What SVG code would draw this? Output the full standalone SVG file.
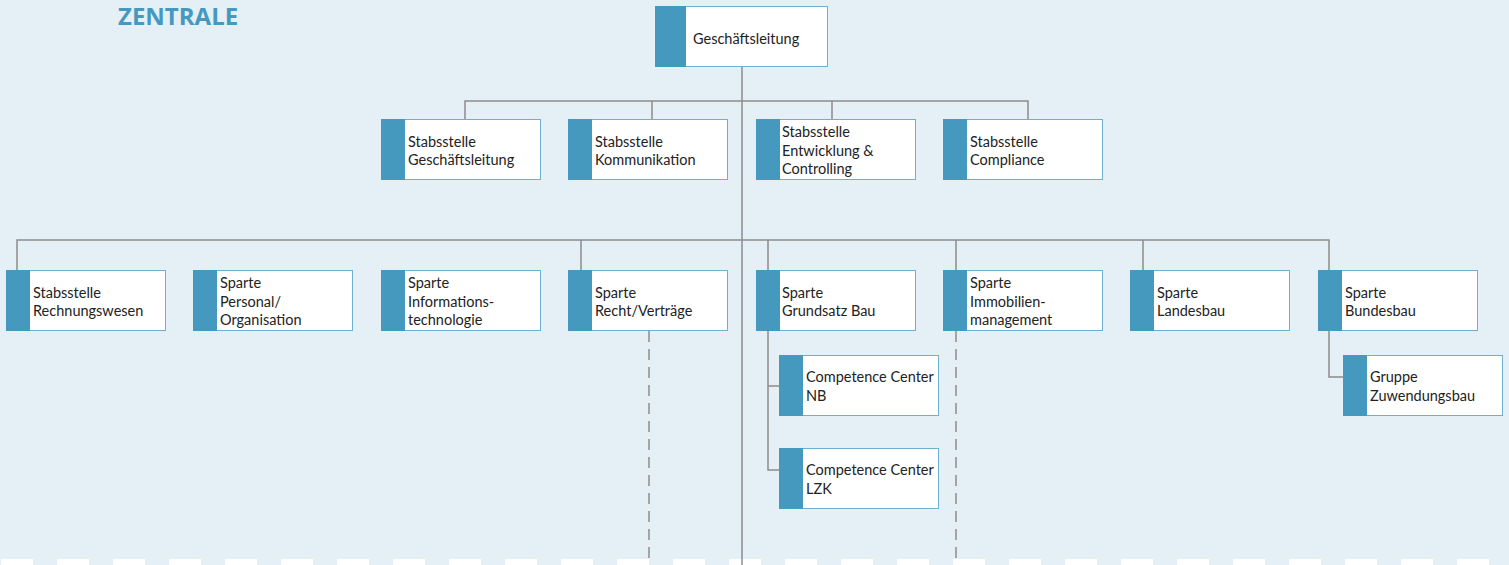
<svg xmlns="http://www.w3.org/2000/svg" width="1509" height="565" viewBox="0 0 1509 565">
  <style>
    .bg { fill: #e4eff6; }
    .box { fill: #ffffff; stroke: #6db1d1; stroke-width: 1; }
    .band { fill: #4599bf; }
    .lbl { font-family: Lato, "Liberation Sans", sans-serif; font-size: 14.5px; fill: #222222; }
    .title { font-family: "Open Sans", "Liberation Sans", sans-serif; font-weight: bold; font-size: 24px; fill: #4599bf; }
    .con { fill: none; stroke: #8c8c8c; stroke-width: 1.5; }
    .dash { fill: none; stroke: #8c8c8c; stroke-width: 1.5; stroke-dasharray: 11 7; }
    .edge { fill: #ffffff; }
  </style>
  <defs>
    <!-- card: white body with a blue band on the left, 160 x 61 -->
    <g id="card">
      <rect class="box" x="0.5" y="0.5" width="159" height="60"/>
      <rect class="band" x="0" y="0" width="24" height="61"/>
    </g>
  </defs>

  <rect class="bg" x="0" y="0" width="1509" height="565"/>

  <!-- perforated lower edge -->
  <g id="lower-edge">
    <rect class="edge" x="1" y="559" width="32" height="6"/>
    <rect class="edge" x="57" y="559" width="32" height="6"/>
    <rect class="edge" x="113" y="559" width="32" height="6"/>
    <rect class="edge" x="169" y="559" width="32" height="6"/>
    <rect class="edge" x="225" y="559" width="32" height="6"/>
    <rect class="edge" x="281" y="559" width="32" height="6"/>
    <rect class="edge" x="337" y="559" width="32" height="6"/>
    <rect class="edge" x="393" y="559" width="32" height="6"/>
    <rect class="edge" x="449" y="559" width="32" height="6"/>
    <rect class="edge" x="505" y="559" width="32" height="6"/>
    <rect class="edge" x="561" y="559" width="32" height="6"/>
    <rect class="edge" x="617" y="559" width="32" height="6"/>
    <rect class="edge" x="673" y="559" width="32" height="6"/>
    <rect class="edge" x="729" y="559" width="32" height="6"/>
    <rect class="edge" x="785" y="559" width="32" height="6"/>
    <rect class="edge" x="841" y="559" width="32" height="6"/>
    <rect class="edge" x="897" y="559" width="32" height="6"/>
    <rect class="edge" x="953" y="559" width="32" height="6"/>
    <rect class="edge" x="1009" y="559" width="32" height="6"/>
    <rect class="edge" x="1065" y="559" width="32" height="6"/>
    <rect class="edge" x="1121" y="559" width="32" height="6"/>
    <rect class="edge" x="1177" y="559" width="32" height="6"/>
    <rect class="edge" x="1233" y="559" width="32" height="6"/>
    <rect class="edge" x="1289" y="559" width="32" height="6"/>
    <rect class="edge" x="1345" y="559" width="32" height="6"/>
    <rect class="edge" x="1401" y="559" width="32" height="6"/>
    <rect class="edge" x="1457" y="559" width="32" height="6"/>
  </g>

  <text class="title" x="118" y="25">ZENTRALE</text>

  <!-- connectors -->
  <g id="connectors">
    <path class="con" d="M742 67 V565"/>
    <path class="con" d="M465 119 V101 H1028 V119 M652 101 V119 M832 101 V119"/>
    <path class="con" d="M17 270 V240 H1329 V270 M581 240 V270 M768 240 V270 M956 240 V270 M1143 240 V270"/>
    <path class="con" d="M768 331 V470 H779 M768 386 H779"/>
    <path class="con" d="M1329 331 V377 H1343"/>
    <path class="dash" d="M649 331 V565"/>
    <path class="dash" d="M956 331 V565"/>
  </g>

  <!-- top -->
  <g id="n-gl">
    <rect class="box" x="655.5" y="6.5" width="172" height="60"/>
    <rect class="band" x="655" y="6" width="31" height="61"/>
    <text class="lbl" x="693" y="43.5">Geschäftsleitung</text>
  </g>

  <!-- staff units -->
  <g id="n-stab-gl">
    <use href="#card" x="381" y="119"/>
    <text class="lbl" x="408" y="147">Stabsstelle<tspan x="408" dy="18">Geschäftsleitung</tspan></text>
  </g>
  <g id="n-stab-kom">
    <use href="#card" x="568" y="119"/>
    <text class="lbl" x="595" y="147">Stabsstelle<tspan x="595" dy="18">Kommunikation</tspan></text>
  </g>
  <g id="n-stab-ec">
    <use href="#card" x="756" y="119"/>
    <text class="lbl" x="782" y="137">Stabsstelle<tspan x="782" dy="18.5">Entwicklung &amp;</tspan><tspan x="782" dy="18.5">Controlling</tspan></text>
  </g>
  <g id="n-stab-comp">
    <use href="#card" x="943" y="119"/>
    <text class="lbl" x="970" y="147">Stabsstelle<tspan x="970" dy="18">Compliance</tspan></text>
  </g>

  <!-- divisions -->
  <g id="n-rw">
    <use href="#card" x="6" y="270"/>
    <text class="lbl" x="33" y="298">Stabsstelle<tspan x="33" dy="18">Rechnungswesen</tspan></text>
  </g>
  <g id="n-po">
    <use href="#card" x="193" y="270"/>
    <text class="lbl" x="220" y="288">Sparte<tspan x="220" dy="18.5">Personal/</tspan><tspan x="220" dy="18.5">Organisation</tspan></text>
  </g>
  <g id="n-it">
    <use href="#card" x="381" y="270"/>
    <text class="lbl" x="408" y="288">Sparte<tspan x="408" dy="18.5">Informations-</tspan><tspan x="408" dy="18.5">technologie</tspan></text>
  </g>
  <g id="n-rv">
    <use href="#card" x="568" y="270"/>
    <text class="lbl" x="595" y="298">Sparte<tspan x="595" dy="18">Recht/Verträge</tspan></text>
  </g>
  <g id="n-gb">
    <use href="#card" x="756" y="270"/>
    <text class="lbl" x="782" y="298">Sparte<tspan x="782" dy="18">Grundsatz Bau</tspan></text>
  </g>
  <g id="n-im">
    <use href="#card" x="943" y="270"/>
    <text class="lbl" x="970" y="288">Sparte<tspan x="970" dy="18.5">Immobilien-</tspan><tspan x="970" dy="18.5">management</tspan></text>
  </g>
  <g id="n-lb">
    <use href="#card" x="1130" y="270"/>
    <text class="lbl" x="1157" y="298">Sparte<tspan x="1157" dy="18">Landesbau</tspan></text>
  </g>
  <g id="n-bb">
    <use href="#card" x="1318" y="270"/>
    <text class="lbl" x="1345" y="298">Sparte<tspan x="1345" dy="18">Bundesbau</tspan></text>
  </g>

  <!-- sub units -->
  <g id="n-cc-nb">
    <use href="#card" x="779" y="355"/>
    <text class="lbl" x="806" y="382">Competence Center<tspan x="806" dy="18.5">NB</tspan></text>
  </g>
  <g id="n-cc-lzk">
    <use href="#card" x="779" y="448"/>
    <text class="lbl" x="806" y="475">Competence Center<tspan x="806" dy="18.5">LZK</tspan></text>
  </g>
  <g id="n-zb">
    <use href="#card" x="1343" y="355"/>
    <text class="lbl" x="1370" y="382">Gruppe<tspan x="1370" dy="18.5">Zuwendungsbau</tspan></text>
  </g>
</svg>
